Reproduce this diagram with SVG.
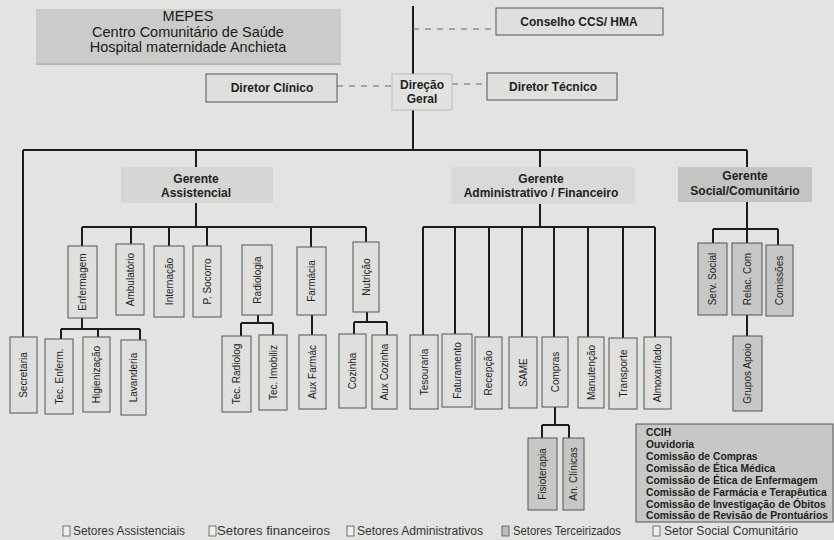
<svg xmlns="http://www.w3.org/2000/svg" width="834" height="540" viewBox="0 0 834 540">
<style>
.bg{fill:#e3e3e1}
.box{fill:#dfdfdd;stroke:#555;stroke-width:1}
.gbox{fill:#c7c7c5;stroke:#555;stroke-width:1}
.conn{stroke:#1c1c1c;stroke-width:2;fill:none}
.dash{stroke:#666;stroke-width:1;fill:none;stroke-dasharray:6 6}
.vt{font-family:"Liberation Sans",Arial,sans-serif;font-size:10px;fill:#222;text-anchor:middle;dominant-baseline:central}
.bt{font-family:"Liberation Sans",Arial,sans-serif;font-size:12px;font-weight:bold;fill:#222;text-anchor:middle}
.mt{font-family:"Liberation Sans",Arial,sans-serif;font-size:14.5px;fill:#1a1a1a;text-anchor:middle}
.lt{font-family:"Liberation Sans",Arial,sans-serif;font-size:10.3px;font-weight:bold;fill:#222}
.lg{font-family:"Liberation Sans",Arial,sans-serif;font-size:12px;fill:#333}
</style>
<rect class="bg" x="0" y="0" width="834" height="540"/>
<g id="connectors">
<path class="conn" d="M413 6 V150"/>
<path class="dash" d="M413 29 H496 M337 86 H392 M452 84 H487"/>
<path class="conn" d="M23 150 H747 M23 150 V337 M196 150 V167 M540 150 V167 M747 150 V167"/>
<path class="conn" d="M196 203 V227 M82 227 H366 M82 227 V246 M131 227 V244 M169 227 V246 M207 227 V246 M311 227 V247 M366 227 V242"/>
<path class="conn" d="M82 318 V329 M61 329 H140 M61 329 V339 M98 329 V337 M140 329 V340"/>
<path class="conn" d="M258 315 V323 M241 323 H273 M241 323 V336 M273 323 V335"/>
<path class="conn" d="M312 315 V335"/>
<path class="conn" d="M367 312 V322 M354 322 H387 M354 322 V334 M387 322 V335"/>
<path class="conn" d="M540 204 V227 M423 227 H655 M423 227 V335 M455 227 V334 M489 227 V337 M522 227 V337 M554 227 V337 M588 227 V337 M623 227 V338 M655 227 V337"/>
<path class="conn" d="M555 407 V425 M542 425 H569 M542 425 V438 M569 425 V438"/>
<path class="conn" d="M747 202 V229 M713 229 H778 M713 229 V243 M747 229 V243 M778 229 V245 M747 315 V336"/>
</g>
<g id="mepes">
<rect x="36" y="9" width="305" height="54" fill="#cbcbc9"/>
<line x1="36" y1="64" x2="341" y2="64" stroke="#888" stroke-width="1"/>
<text class="mt" x="188" y="21">MEPES</text>
<text class="mt" x="188" y="37">Centro Comunitário de Saúde</text>
<text class="mt" x="188" y="52">Hospital maternidade Anchieta</text>
</g>
<g id="conselho"><rect class="box" x="496" y="8" width="167" height="27"/><text class="bt" x="579" y="26">Conselho CCS/ HMA</text></g>
<g id="diretor-clinico"><rect class="box" x="206" y="74" width="131" height="28"/><text class="bt" x="272" y="92">Diretor Clínico</text></g>
<g id="direcao-geral"><rect x="392" y="74" width="60" height="36" fill="#e2e2e0" stroke="#bbb" stroke-width="1"/><text class="bt" x="422" y="89" font-size="11">Direção</text><text class="bt" x="422" y="103" font-size="11">Geral</text></g>
<g id="diretor-tecnico"><rect class="box" x="487" y="73" width="130" height="27"/><text class="bt" x="553" y="91">Diretor Técnico</text></g>
<g id="gerente-assistencial"><rect x="121" y="167" width="152" height="36" fill="#d6d6d4"/><text class="bt" x="196" y="183">Gerente</text><text class="bt" x="196" y="197">Assistencial</text></g>
<g id="gerente-adm"><rect x="451" y="167" width="184" height="37" fill="#d9d9d7"/><text class="bt" x="541" y="183">Gerente</text><text class="bt" x="541" y="197">Administrativo / Financeiro</text></g>
<g id="gerente-social"><rect x="678" y="167" width="134" height="35" fill="#c4c4c2"/><text class="bt" x="745" y="180">Gerente</text><text class="bt" x="745" y="195">Social/Comunitário</text></g>

<g id="enfermagem"><rect class="box" x="68" y="246" width="29" height="72"/><text class="vt" transform="rotate(-90 82.5 282)" x="82.5" y="282">Enfermagem</text></g>
<g id="ambulatorio"><rect class="box" x="116" y="244" width="28" height="71"/><text class="vt" transform="rotate(-90 130 279.5)" x="130" y="279.5">Ambulatório</text></g>
<g id="internacao"><rect class="box" x="154" y="246" width="30" height="71"/><text class="vt" transform="rotate(-90 169 281.5)" x="169" y="281.5">Internação</text></g>
<g id="p-socorro"><rect class="box" x="193" y="246" width="28" height="71"/><text class="vt" transform="rotate(-90 207 281.5)" x="207" y="281.5">P. Socorro</text></g>
<g id="radiologia"><rect class="box" x="242" y="245" width="30" height="70"/><text class="vt" transform="rotate(-90 257 280)" x="257" y="280">Radiologia</text></g>
<g id="farmacia"><rect class="box" x="297" y="247" width="29" height="68"/><text class="vt" transform="rotate(-90 311.5 281)" x="311.5" y="281">Farmácia</text></g>
<g id="nutricao"><rect class="box" x="353" y="242" width="26" height="70"/><text class="vt" transform="rotate(-90 366 277)" x="366" y="277">Nutrição</text></g>

<g id="secretaria"><rect class="box" x="10" y="337" width="27" height="76"/><text class="vt" transform="rotate(-90 23.5 375)" x="23.5" y="375">Secretaria</text></g>
<g id="tec-enferm"><rect class="box" x="45" y="339" width="28" height="75"/><text class="vt" transform="rotate(-90 59 376.5)" x="59" y="376.5">Tec. Enferm.</text></g>
<g id="higienizacao"><rect class="box" x="83" y="337" width="27" height="75"/><text class="vt" transform="rotate(-90 96.5 374.5)" x="96.5" y="374.5">Higienização</text></g>
<g id="lavanderia"><rect class="box" x="121" y="340" width="25" height="75"/><text class="vt" transform="rotate(-90 133.5 377.5)" x="133.5" y="377.5">Lavanderia</text></g>
<g id="tec-radiolog"><rect class="box" x="222" y="336" width="29" height="76"/><text class="vt" transform="rotate(-90 236.5 374)" x="236.5" y="374">Tec. Radiolog</text></g>
<g id="tec-imobiliz"><rect class="box" x="259" y="335" width="28" height="75"/><text class="vt" transform="rotate(-90 273 372.5)" x="273" y="372.5">Tec. Imobiliz</text></g>
<g id="aux-farmac"><rect class="box" x="299" y="335" width="27" height="74"/><text class="vt" transform="rotate(-90 312.5 372)" x="312.5" y="372">Aux Farmác</text></g>
<g id="cozinha"><rect class="box" x="339" y="334" width="27" height="74"/><text class="vt" transform="rotate(-90 352.5 371)" x="352.5" y="371">Cozinha</text></g>
<g id="aux-cozinha"><rect class="box" x="372" y="335" width="25" height="74"/><text class="vt" transform="rotate(-90 384.5 372)" x="384.5" y="372">Aux Cozinha</text></g>

<g id="tesouraria"><rect class="box" x="410" y="335" width="28" height="74"/><text class="vt" transform="rotate(-90 424 372)" x="424" y="372">Tesouraria</text></g>
<g id="faturamento"><rect class="box" x="442" y="334" width="30" height="73"/><text class="vt" transform="rotate(-90 457 370.5)" x="457" y="370.5">Faturamento</text></g>
<g id="recepcao"><rect class="box" x="475" y="337" width="27" height="72"/><text class="vt" transform="rotate(-90 488.5 373)" x="488.5" y="373">Recepção</text></g>
<g id="same"><rect class="box" x="509" y="337" width="28" height="71"/><text class="vt" transform="rotate(-90 523 372.5)" x="523" y="372.5">SAME</text></g>
<g id="compras"><rect class="box" x="542" y="337" width="26" height="70"/><text class="vt" transform="rotate(-90 555 372)" x="555" y="372">Compras</text></g>
<g id="manutencao"><rect class="box" x="578" y="337" width="26" height="71"/><text class="vt" transform="rotate(-90 591 372.5)" x="591" y="372.5">Manutenção</text></g>
<g id="transporte"><rect class="box" x="609" y="338" width="28" height="71"/><text class="vt" transform="rotate(-90 623 373.5)" x="623" y="373.5">Transporte</text></g>
<g id="almoxarifado"><rect class="box" x="644" y="337" width="27" height="72"/><text class="vt" transform="rotate(-90 657.5 373)" x="657.5" y="373">Almoxarifado</text></g>

<g id="fisioterapia"><rect class="gbox" x="528" y="438" width="29" height="72"/><text class="vt" transform="rotate(-90 542.5 474)" x="542.5" y="474">Fisioterapia</text></g>
<g id="an-clinicas"><rect class="gbox" x="563" y="438" width="21" height="72"/><text class="vt" transform="rotate(-90 573.5 474)" x="573.5" y="474">An. Clínicas</text></g>

<g id="serv-social"><rect class="gbox" x="698" y="243" width="29" height="72"/><text class="vt" transform="rotate(-90 712.5 279)" x="712.5" y="279">Serv. Social</text></g>
<g id="relac-com"><rect class="gbox" x="732" y="243" width="30" height="72"/><text class="vt" transform="rotate(-90 747 279)" x="747" y="279">Relac. Com</text></g>
<g id="comissoes"><rect class="gbox" x="766" y="245" width="27" height="71"/><text class="vt" transform="rotate(-90 779.5 280.5)" x="779.5" y="280.5">Comissões</text></g>
<g id="grupos-apoio"><rect class="gbox" x="733" y="336" width="29" height="75"/><text class="vt" transform="rotate(-90 747.5 373.5)" x="747.5" y="373.5">Grupos Apoio</text></g>

<g id="comissoes-lista">
<rect class="gbox" x="636" y="424" width="197" height="98"/>
<text class="lt" x="646" y="436">CCIH</text>
<text class="lt" x="646" y="448">Ouvidoria</text>
<text class="lt" x="646" y="460">Comissão de Compras</text>
<text class="lt" x="646" y="472">Comissão de Ética Médica</text>
<text class="lt" x="646" y="483.5">Comissão de Ética de Enfermagem</text>
<text class="lt" x="646" y="495.5">Comissão de Farmácia e Terapêutica</text>
<text class="lt" x="646" y="507.5">Comissão de Investigação de Óbitos</text>
<text class="lt" x="646" y="519">Comissão de Revisão de Prontuários</text>
</g>

<g id="legenda">
<rect x="63" y="526" width="7" height="10" fill="#eee" stroke="#555" stroke-width="0.8"/>
<text class="lg" x="73" y="535" textLength="112" lengthAdjust="spacingAndGlyphs">Setores  Assistenciais</text>
<rect x="209" y="526" width="7" height="10" fill="#eee" stroke="#555" stroke-width="0.8"/>
<text class="lg" x="217" y="535" textLength="113" lengthAdjust="spacingAndGlyphs">Setores financeiros</text>
<rect x="347" y="526" width="7" height="10" fill="#eee" stroke="#555" stroke-width="0.8"/>
<text class="lg" x="357" y="535" textLength="126" lengthAdjust="spacingAndGlyphs">Setores Administrativos</text>
<rect x="502" y="526" width="7" height="10" fill="#bdbdbb" stroke="#555" stroke-width="0.8"/>
<text class="lg" x="513" y="535" textLength="108" lengthAdjust="spacingAndGlyphs">Setores Terceirizados</text>
<rect x="653" y="526" width="7" height="10" fill="#eee" stroke="#555" stroke-width="0.8"/>
<text class="lg" x="664" y="535" textLength="134" lengthAdjust="spacingAndGlyphs">Setor Social Comunitário</text>
</g>
</svg>
